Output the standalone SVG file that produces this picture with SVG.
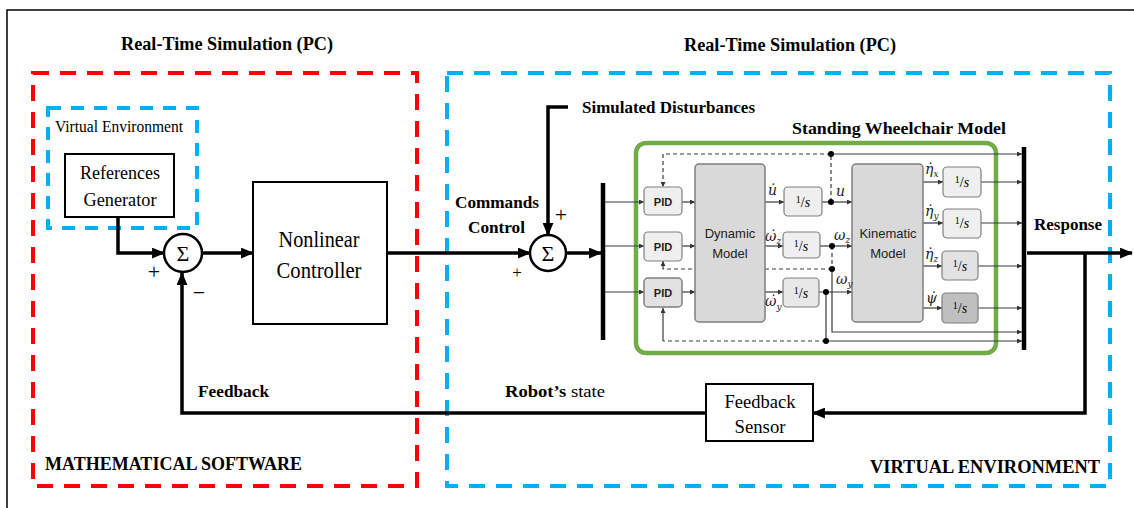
<svg xmlns="http://www.w3.org/2000/svg" width="1134" height="508" viewBox="0 0 1134 508">
<defs>
<marker id="ab" viewBox="0 0 12 10" refX="11" refY="5" markerWidth="13" markerHeight="11" markerUnits="userSpaceOnUse" orient="auto"><path d="M0,0 L12,5 L0,10 z" fill="#000"/></marker>
<marker id="as" viewBox="0 0 6 6" refX="6" refY="3" markerWidth="6" markerHeight="5" markerUnits="userSpaceOnUse" orient="auto"><path d="M0,0 L6,3 L0,6 z" fill="#333"/></marker>
</defs>
<style>
.thick{stroke:#000;stroke-width:3.5;fill:none}
.thin{stroke:#3a3a3a;stroke-width:1.2;fill:none}
.dash{stroke:#3a3a3a;stroke-width:1.2;fill:none;stroke-dasharray:4 3}
.blk{fill:#fff;stroke:#000;stroke-width:2}
.rnd{fill:#efefef;stroke:#7f7f7f;stroke-width:1.2}
.gray{fill:#d9d9d9;stroke:#7f7f7f;stroke-width:1.5}
.ser{font-family:'Liberation Serif','DejaVu Serif',serif;fill:#000}
.b{font-weight:bold}
.sans{font-family:'Liberation Sans',Arial,sans-serif;fill:#222}
.m{font-family:'DejaVu Serif','Liberation Serif',serif;font-style:italic;font-size:14px;fill:#222}
.dot{fill:#000}
.red{fill:none;stroke:#ff0000;stroke-width:4;stroke-dasharray:16 11}
.blue{fill:none;stroke:#00b0f0;stroke-width:4;stroke-dasharray:16 11}
</style>
<path d="M7,520 V10 H1140" fill="none" stroke="#000" stroke-width="1.5"/>

<g id="regions">
<rect class="red" x="33" y="73" width="384" height="413"/>
<rect class="blue" x="447" y="73" width="663" height="413"/>
<rect class="blue" x="48" y="108" width="149" height="120" style="stroke-dasharray:13 10"/>
<rect x="636" y="143" width="360" height="210" rx="10" fill="none" stroke="#70ad47" stroke-width="4.5"/>
</g>

<g id="labels">
<text class="ser b" x="121" y="50" font-size="18" textLength="212" lengthAdjust="spacingAndGlyphs">Real-Time Simulation (PC)</text>
<text class="ser b" x="684" y="51" font-size="18" textLength="212" lengthAdjust="spacingAndGlyphs">Real-Time Simulation (PC)</text>
<text class="ser" x="55" y="132" font-size="16" textLength="128" lengthAdjust="spacingAndGlyphs">Virtual Environment</text>
<text class="ser b" x="582" y="113" font-size="17" textLength="173" lengthAdjust="spacingAndGlyphs">Simulated Disturbances</text>
<text class="ser b" x="792" y="134" font-size="17" textLength="214" lengthAdjust="spacingAndGlyphs">Standing Wheelchair Model</text>
<text class="ser b" x="455" y="208" font-size="17" textLength="84" lengthAdjust="spacingAndGlyphs">Commands</text>
<text class="ser b" x="468" y="233" font-size="17" textLength="57" lengthAdjust="spacingAndGlyphs">Control</text>
<text class="ser b" x="1034" y="230" font-size="17" textLength="68" lengthAdjust="spacingAndGlyphs">Response</text>
<text class="ser b" x="198" y="397" font-size="17" textLength="71" lengthAdjust="spacingAndGlyphs">Feedback</text>
<text class="ser" x="505" y="397" font-size="17" textLength="100" lengthAdjust="spacingAndGlyphs"><tspan font-weight="bold">Robot’s</tspan> state</text>
<text class="ser b" x="45" y="470" font-size="18" textLength="257" lengthAdjust="spacingAndGlyphs">MATHEMATICAL SOFTWARE</text>
<text class="ser b" x="870" y="473" font-size="18" textLength="230" lengthAdjust="spacingAndGlyphs">VIRTUAL ENVIRONMENT</text>
<text class="ser" x="154" y="279" font-size="22" text-anchor="middle">+</text>
<text class="ser" x="199" y="300" font-size="22" text-anchor="middle">−</text>
<text class="ser" x="561" y="222" font-size="22" text-anchor="middle">+</text>
<text class="ser" x="517" y="278" font-size="17" text-anchor="middle">+</text>
</g>

<g id="connectors">
<path class="thick" d="M118,217 V253 H164" marker-end="url(#ab)"/>
<path class="thick" d="M202,253 H253" marker-end="url(#ab)"/>
<path class="thick" d="M387,253 H530" marker-end="url(#ab)"/>
<path class="thick" d="M568,107 H548 V235" marker-end="url(#ab)"/>
<path class="thick" d="M566,253 H601" marker-end="url(#ab)"/>
<line x1="603" y1="183" x2="603" y2="340" stroke="#000" stroke-width="4.5"/>
<path class="thin" d="M605,202 H644" marker-end="url(#as)"/>
<path class="thin" d="M605,246 H644" marker-end="url(#as)"/>
<path class="thin" d="M605,292 H644" marker-end="url(#as)"/>
<path class="thin" d="M682,202 H695" marker-end="url(#as)"/>
<path class="thin" d="M682,246 H695" marker-end="url(#as)"/>
<path class="thin" d="M682,292 H695" marker-end="url(#as)"/>
<path class="thin" d="M765,202 H784" marker-end="url(#as)"/>
<path class="thin" d="M765,246 H783" marker-end="url(#as)"/>
<path class="thin" d="M765,292 H783" marker-end="url(#as)"/>
<path class="thin" d="M822,202 H852" marker-end="url(#as)"/>
<path class="dash" d="M831,202 V154"/>
<path class="dash" d="M831,154 H663 V187" marker-end="url(#as)"/>
<path class="thin" d="M831,154 H1022" marker-end="url(#as)"/>
<path class="thin" d="M820,246 H852" marker-end="url(#as)"/>
<path class="dash" d="M832,246 V269"/>
<path class="dash" d="M832,269 H663 V261" marker-end="url(#as)"/>
<path class="thin" d="M832,269 V332 H1022" marker-end="url(#as)"/>
<path class="thin" d="M819,292 H852" marker-end="url(#as)"/>
<path class="thin" d="M826,292 V341 H1022" marker-end="url(#as)"/>
<path class="dash" d="M826,341 H663"/>
<path class="thin" d="M663,341 V308" marker-end="url(#as)"/>
<path class="thin" d="M923,182 H943" marker-end="url(#as)"/>
<path class="thin" d="M923,223 H943" marker-end="url(#as)"/>
<path class="thin" d="M923,266 H942" marker-end="url(#as)"/>
<path class="thin" d="M923,308 H942" marker-end="url(#as)"/>
<path class="thin" d="M981,182 H1022" marker-end="url(#as)"/>
<path class="thin" d="M981,223 H1022" marker-end="url(#as)"/>
<path class="thin" d="M978,266 H1022" marker-end="url(#as)"/>
<path class="thin" d="M978,308 H1022" marker-end="url(#as)"/>
<line x1="1024" y1="147" x2="1024" y2="350" stroke="#000" stroke-width="4.5"/>
<path class="thick" d="M1027,253 H1132" marker-end="url(#ab)"/>
<path class="thick" d="M1085,253 V413 H813" marker-end="url(#ab)"/>
<path class="thick" d="M706,413 H182 V273" marker-end="url(#ab)"/>
<circle class="dot" cx="831" cy="154" r="3"/>
<circle class="dot" cx="831" cy="202" r="3"/>
<circle class="dot" cx="832" cy="246" r="3"/>
<circle class="dot" cx="832" cy="269" r="3"/>
<circle class="dot" cx="826" cy="292" r="3"/>
<circle class="dot" cx="826" cy="341" r="3"/>
</g>

<g id="refgen">
<rect class="blk" x="65" y="154" width="109" height="63"/>
<text class="ser" x="120" y="179" font-size="19" text-anchor="middle" textLength="80" lengthAdjust="spacingAndGlyphs">References</text>
<text class="ser" x="120" y="206" font-size="19" text-anchor="middle" textLength="73" lengthAdjust="spacingAndGlyphs">Generator</text>
</g>
<g id="sum1">
<circle cx="183" cy="253" r="19" fill="#fff" stroke="#000" stroke-width="2.5"/>
<text class="ser" x="183" y="261" font-size="22" text-anchor="middle">Σ</text>
</g>
<g id="controller">
<rect class="blk" x="253" y="182" width="134" height="142"/>
<text class="ser" x="319" y="247" font-size="24" text-anchor="middle" textLength="81" lengthAdjust="spacingAndGlyphs">Nonlinear</text>
<text class="ser" x="319" y="278" font-size="24" text-anchor="middle" textLength="85" lengthAdjust="spacingAndGlyphs">Controller</text>
</g>
<g id="sum2">
<circle cx="548" cy="253" r="18" fill="#fff" stroke="#000" stroke-width="2.5"/>
<text class="ser" x="548" y="261" font-size="22" text-anchor="middle">Σ</text>
</g>
<g id="feedbacksensor">
<rect class="blk" x="706" y="384" width="107" height="57"/>
<text class="ser" x="760" y="408" font-size="19" text-anchor="middle" textLength="71" lengthAdjust="spacingAndGlyphs">Feedback</text>
<text class="ser" x="760" y="433" font-size="19" text-anchor="middle" textLength="51" lengthAdjust="spacingAndGlyphs">Sensor</text>
</g>

<g id="pid1"><rect class="rnd" x="644" y="187" width="38" height="28" rx="4"/><text class="sans b" x="663" y="206" font-size="11" text-anchor="middle">PID</text></g>
<g id="pid2"><rect class="rnd" x="644" y="232" width="38" height="29" rx="4"/><text class="sans b" x="663" y="251" font-size="11" text-anchor="middle">PID</text></g>
<g id="pid3"><rect class="gray" x="644" y="278" width="38" height="29" rx="4" style="fill:#e2e2e2"/><text class="sans b" x="663" y="297" font-size="11" text-anchor="middle">PID</text></g>

<g id="dynamic">
<rect class="gray" x="695" y="164" width="70" height="158" rx="4"/>
<text class="sans" x="730" y="238" font-size="13" text-anchor="middle">Dynamic</text>
<text class="sans" x="730" y="258" font-size="13" text-anchor="middle">Model</text>
</g>
<g id="kinematic">
<rect class="gray" x="852" y="164" width="71" height="158" rx="4"/>
<text class="sans" x="888" y="238" font-size="13" text-anchor="middle">Kinematic</text>
<text class="sans" x="888" y="258" font-size="13" text-anchor="middle">Model</text>
</g>

<g id="int1"><rect class="rnd" x="784" y="187" width="38" height="29" rx="4"/><text class="ser" x="803" y="207" font-size="14" text-anchor="middle"><tspan font-size="10" dy="-4">1</tspan><tspan dy="4">/</tspan><tspan font-style="italic">s</tspan></text></g>
<g id="int2"><rect class="rnd" x="783" y="232" width="37" height="26" rx="4"/><text class="ser" x="801" y="251" font-size="14" text-anchor="middle"><tspan font-size="10" dy="-4">1</tspan><tspan dy="4">/</tspan><tspan font-style="italic">s</tspan></text></g>
<g id="int3"><rect class="rnd" x="783" y="278" width="36" height="29" rx="4" style="fill:#e8e8e8"/><text class="ser" x="801" y="298" font-size="14" text-anchor="middle"><tspan font-size="10" dy="-4">1</tspan><tspan dy="4">/</tspan><tspan font-style="italic">s</tspan></text></g>
<g id="int4"><rect class="rnd" x="943" y="167" width="38" height="30" rx="4"/><text class="ser" x="962" y="187" font-size="14" text-anchor="middle"><tspan font-size="10" dy="-4">1</tspan><tspan dy="4">/</tspan><tspan font-style="italic">s</tspan></text></g>
<g id="int5"><rect class="rnd" x="943" y="209" width="38" height="29" rx="4"/><text class="ser" x="962" y="228" font-size="14" text-anchor="middle"><tspan font-size="10" dy="-4">1</tspan><tspan dy="4">/</tspan><tspan font-style="italic">s</tspan></text></g>
<g id="int6"><rect class="rnd" x="942" y="251" width="36" height="29" rx="4" style="fill:#e2e2e2"/><text class="ser" x="960" y="271" font-size="14" text-anchor="middle"><tspan font-size="10" dy="-4">1</tspan><tspan dy="4">/</tspan><tspan font-style="italic">s</tspan></text></g>
<g id="int7"><rect class="rnd" x="942" y="293" width="36" height="30" rx="4" style="fill:#bfbfbf"/><text class="ser" x="960" y="313" font-size="14" text-anchor="middle"><tspan font-size="10" dy="-4">1</tspan><tspan dy="4">/</tspan><tspan font-style="italic">s</tspan></text></g>

<g id="signals">
<text class="m" x="768" y="195">u̇</text>
<text class="m" x="765" y="241">ω̇<tspan font-size="9" dy="3">z</tspan></text>
<text class="m" x="765" y="306">ω̇<tspan font-size="9" dy="4">y</tspan></text>
<text class="m" x="836" y="196">u</text>
<text class="m" x="834" y="240">ω<tspan font-size="9" dy="3">z</tspan></text>
<text class="m" x="836" y="284">ω<tspan font-size="9" dy="3">y</tspan></text>
<text class="m" x="925" y="174">η̇<tspan font-size="9" dy="3">x</tspan></text>
<text class="m" x="925" y="216">η̇<tspan font-size="9" dy="3">y</tspan></text>
<text class="m" x="925" y="259">η̇<tspan font-size="9" dy="3">z</tspan></text>
<text class="m" x="926" y="303">ψ̇</text>
</g>
</svg>
